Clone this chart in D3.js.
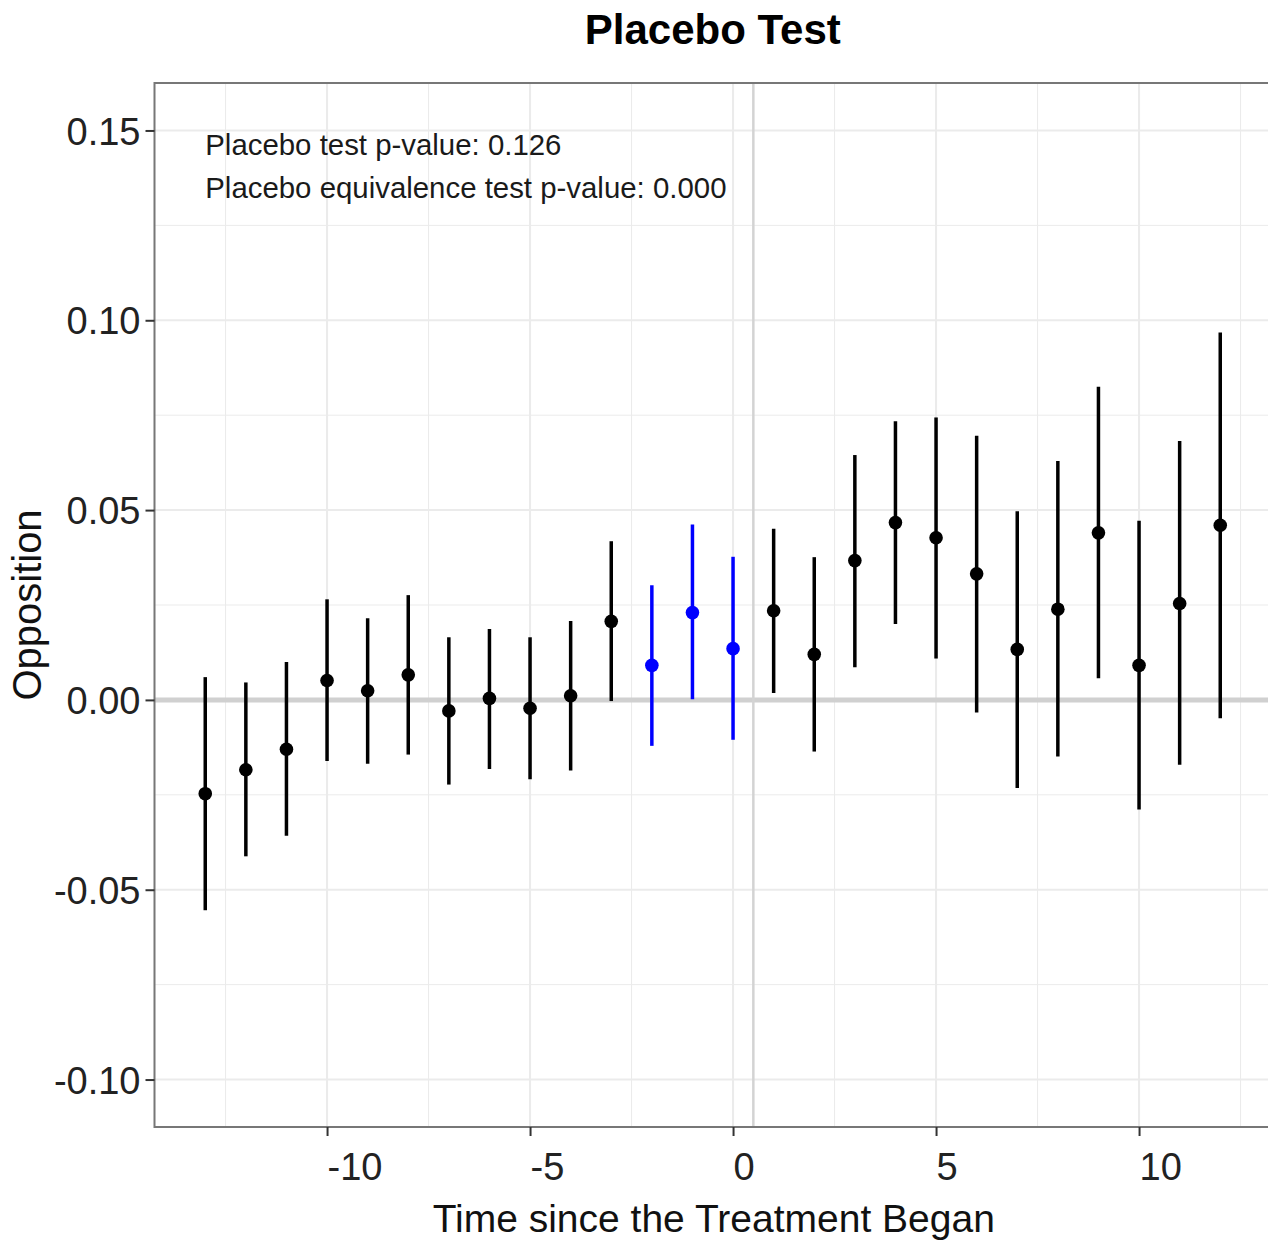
<!DOCTYPE html>
<html lang="en">
<head>
  <meta charset="UTF-8">
  <title>Placebo Test</title>
  <script src="https://cdn.jsdelivr.net/npm/d3@7"></script>
  <style>
    body { margin: 0; background: #fff; }
    text { font-family: "Liberation Sans", Arial, Helvetica, sans-serif; }
  </style>
</head>
<body>
<svg></svg>
<script>
  const width = 1268, height = 1245

  // time since treatment, point estimate, CI bounds
  const periods = [-13, -12, -11, -10, -9, -8, -7, -6, -5, -4, -3, -2, -1, 0, 1, 2, 3, 4, 5, 6, 7, 8, 9, 10, 11, 12]
  const estimates = [-0.0247, -0.0184, -0.0130, 0.0051, 0.0024, 0.0066, -0.0029, 0.0004, -0.0022, 0.0011, 0.0207,
    0.0091, 0.0230, 0.0135, 0.0235, 0.0120, 0.0367, 0.0467, 0.0427, 0.0332, 0.0133, 0.0239, 0.0440, 0.0091, 0.0254, 0.0460]
  const lower = [-0.0554, -0.0412, -0.0358, -0.0161, -0.0168, -0.0144, -0.0223, -0.0182, -0.0209, -0.0186, -0.0003,
    -0.0121, 0.0002, -0.0105, 0.0018, -0.0136, 0.0086, 0.0200, 0.0109, -0.0033, -0.0232, -0.0149, 0.0057, -0.0289, -0.0171, -0.0048]
  const upper = [0.0060, 0.0046, 0.0100, 0.0265, 0.0215, 0.0276, 0.0165, 0.0187, 0.0165, 0.0208, 0.0418,
    0.0302, 0.0462, 0.0377, 0.0451, 0.0376, 0.0645, 0.0734, 0.0744, 0.0696, 0.0497, 0.0629, 0.0825, 0.0472, 0.0682, 0.0968]
  const placeboPeriods = [-2, -1, 0]

  const xTicks = [-10, -5, 0, 5, 10]
  const xMinor = [-12.5, -7.5, -2.5, 2.5, 7.5, 12.5]
  const yTicks = [-0.10, -0.05, 0.00, 0.05, 0.10, 0.15]
  const yMinor = [-0.075, -0.025, 0.025, 0.075, 0.125]
  const notes = ['Placebo test p-value: 0.126', 'Placebo equivalence test p-value: 0.000']

  const data = periods.map((t, i) => ({t, est: estimates[i], lo: lower[i], hi: upper[i], placebo: placeboPeriods.includes(t)}))

  const panel = {left: 154.5, right: 1271, top: 83, bottom: 1127}

  const x = d3.scaleLinear().domain([-14.25, 13.25]).range([panel.left, panel.right])
  const y = d3.scaleLinear().domain([-0.1125, 0.1625]).range([panel.bottom, panel.top])

  const svg = d3.select('svg')
      .attr('width', width)
      .attr('height', height)
      .attr('viewBox', [0, 0, width, height])

  // grid
  const grid = svg.append('g')
  grid.selectAll('.vminor').data(xMinor).join('line')
      .attr('x1', d => x(d)).attr('x2', d => x(d))
      .attr('y1', panel.top).attr('y2', panel.bottom)
      .attr('stroke', '#ebebeb').attr('stroke-width', 1)
  grid.selectAll('.hminor').data(yMinor).join('line')
      .attr('y1', d => y(d)).attr('y2', d => y(d))
      .attr('x1', panel.left).attr('x2', panel.right)
      .attr('stroke', '#ebebeb').attr('stroke-width', 1)
  grid.selectAll('.vmajor').data(xTicks).join('line')
      .attr('x1', d => x(d)).attr('x2', d => x(d))
      .attr('y1', panel.top).attr('y2', panel.bottom)
      .attr('stroke', '#ebebeb').attr('stroke-width', 2)
  grid.selectAll('.hmajor').data(yTicks).join('line')
      .attr('y1', d => y(d)).attr('y2', d => y(d))
      .attr('x1', panel.left).attr('x2', panel.right)
      .attr('stroke', '#ebebeb').attr('stroke-width', 2)

  // reference lines
  svg.append('line')
      .attr('x1', panel.left).attr('x2', panel.right)
      .attr('y1', y(0)).attr('y2', y(0))
      .attr('stroke', '#d0d0d0').attr('stroke-width', 5)
  svg.append('line')
      .attr('x1', x(0.5)).attr('x2', x(0.5))
      .attr('y1', panel.top).attr('y2', panel.bottom)
      .attr('stroke', '#d3d3d3').attr('stroke-width', 2.5)

  // error bars + points
  const marks = svg.append('g')
  marks.selectAll('line').data(data).join('line')
      .attr('x1', d => x(d.t)).attr('x2', d => x(d.t))
      .attr('y1', d => y(d.lo)).attr('y2', d => y(d.hi))
      .attr('stroke', d => d.placebo ? '#0000ff' : '#000')
      .attr('stroke-width', 3.5)
  marks.selectAll('circle').data(data).join('circle')
      .attr('cx', d => x(d.t)).attr('cy', d => y(d.est))
      .attr('r', 6.8)
      .attr('fill', d => d.placebo ? '#0000ff' : '#000')

  // annotations
  svg.append('g').selectAll('text').data(notes).join('text')
      .attr('x', x(-13))
      .attr('y', (d, i) => 155 + i * 43)
      .attr('font-size', 29.4)
      .attr('fill', '#1a1a1a')
      .text(d => d)

  // panel border
  svg.append('rect')
      .attr('x', panel.left).attr('y', panel.top)
      .attr('width', panel.right - panel.left).attr('height', panel.bottom - panel.top)
      .attr('fill', 'none').attr('stroke', '#777').attr('stroke-width', 2)

  // axes
  const xAxis = svg.append('g')
      .attr('transform', `translate(0,${panel.bottom})`)
      .call(d3.axisBottom(x).tickValues(xTicks).tickSize(9).tickPadding(17).tickFormat(d3.format('d')))
  xAxis.select('.domain').remove()
  xAxis.selectAll('.tick line').attr('stroke', '#333').attr('stroke-width', 2)
  xAxis.selectAll('.tick text')
      .attr('text-anchor', 'start')
      .attr('font-size', 38)
      .attr('fill', '#222')
      .attr('dy', '0.71em')
      .text(d => d < 0 ? '-' + Math.abs(d) : d)

  const yAxis = svg.append('g')
      .attr('transform', `translate(${panel.left},0)`)
      .call(d3.axisLeft(y).tickValues(yTicks).tickSize(9).tickPadding(5).tickFormat(d => (d < 0 ? '-' : '') + d3.format('.2f')(Math.abs(d))))
  yAxis.select('.domain').remove()
  yAxis.selectAll('.tick line').attr('stroke', '#333').attr('stroke-width', 2)
  yAxis.selectAll('.tick text')
      .attr('font-size', 38)
      .attr('fill', '#222')
      .attr('dy', '0.36em')

  // titles
  svg.append('text')
      .attr('x', (panel.left + panel.right) / 2).attr('y', 44)
      .attr('text-anchor', 'middle')
      .attr('font-size', 42).attr('font-weight', 'bold')
      .text('Placebo Test')

  svg.append('text')
      .attr('x', (panel.left + panel.right) / 2 + 1).attr('y', 1232)
      .attr('text-anchor', 'middle')
      .attr('font-size', 39)
      .attr('fill', '#111')
      .text('Time since the Treatment Began')

  svg.append('text')
      .attr('transform', `translate(41,${(panel.top + panel.bottom) / 2}) rotate(-90)`)
      .attr('text-anchor', 'middle')
      .attr('font-size', 40)
      .attr('fill', '#111')
      .text('Opposition')
</script>
</body>
</html>
